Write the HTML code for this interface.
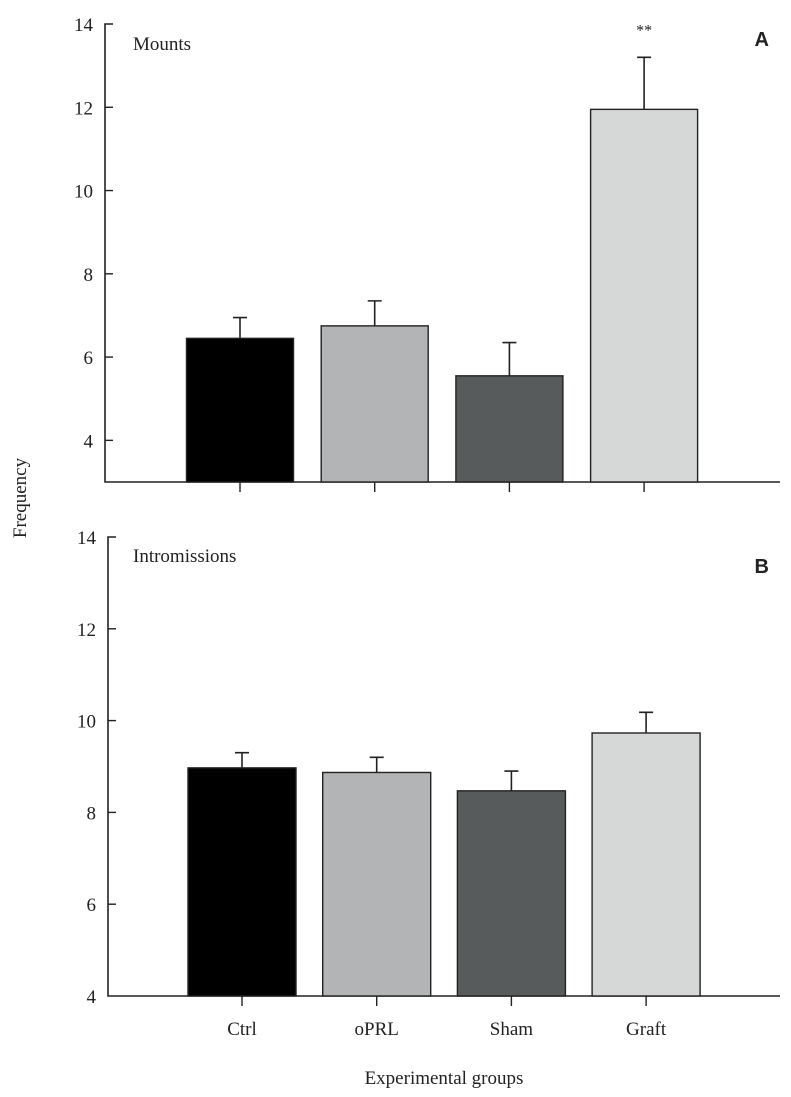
<!DOCTYPE html>
<html><head><meta charset="utf-8"><style>
body{margin:0;background:#fff;}
svg text{font-family:"Liberation Serif",serif;fill:#222;}
</style></head><body>
<svg id="chart" width="791" height="1092" xmlns="http://www.w3.org/2000/svg"></svg>
<script>
const categories=["Ctrl","oPRL","Sham","Graft"];
const mountsValues=[6.45,6.75,5.55,11.95];
const mountsErrors=[0.5,0.6,0.8,1.25];
const introValues=[8.97,8.87,8.47,9.73];
const introErrors=[0.33,0.33,0.43,0.45];
const yTicks=[4,6,8,10,12,14];
const colors=["#000000","#b2b4b5","#585b5c","#d6d7d7"];
const NS="http://www.w3.org/2000/svg";
const svg=document.getElementById('chart');
function mk(tag,attrs,parent){const e=document.createElementNS(NS,tag);for(const k in attrs)e.setAttribute(k,attrs[k]);(parent||svg).appendChild(e);return e;}
function panel(cfg){
  const g=mk('g',{});
  
  
  const y=v=>cfg.y0-(v-cfg.vmin)*(cfg.y0-cfg.y14)/(14-cfg.vmin);
  const xc=i=>cfg.xStart+i*cfg.step;
  const ax=mk('path',{d:`M${cfg.ax+8},${y(14)}H${cfg.ax}V${cfg.y0}H780`,stroke:'#222','stroke-width':1.6,fill:'none'},g);
  
  
  yTicks.forEach(t=>{
    if(t<cfg.vmin)return;
    if(t!==14&&t>cfg.vmin) mk('line',{x1:cfg.ax,x2:cfg.ax+8,y1:y(t),y2:y(t),stroke:'#222','stroke-width':1.4},g);
    const tx=mk('text',{x:cfg.ax-12,y:y(t)+7,'text-anchor':'end','font-size':19},g);
    tx.textContent=t;
    
    
  });
  cfg.values.forEach((v,i)=>{
    const cx=xc(i);
    const top=y(v+cfg.errors[i]);
    const e=mk('path',{d:`M${cx},${y(v)}V${top}M${cx-7},${top}H${cx+7}`,stroke:'#222','stroke-width':1.6,fill:'none'},g);
    
    
    const b=mk('rect',{x:cx-cfg.bw/2,y:y(v),width:cfg.bw,height:cfg.y0-y(v),fill:colors[i],stroke:'#222','stroke-width':1.4},g);
    
    
    mk('line',{x1:cx,x2:cx,y1:cfg.y0,y2:cfg.y0+10,stroke:'#222','stroke-width':1.4},g);
  });
  return {y,xc};
}
const A=panel({name:'panel-a-mounts',ax:105,y0:482,y14:24,vmin:3,xStart:240,step:134.7,bw:107,values:mountsValues,errors:mountsErrors});
const B=panel({name:'panel-b-intromissions',ax:108,y0:996,y14:537,vmin:4,xStart:242,step:134.7,bw:108,values:introValues,errors:introErrors});
function txt(s,attrs,name){const t=mk('text',attrs);t.textContent=s;return t;}
txt('Mounts',{x:133,y:50,'font-size':19},'panel-a-title');
txt('A',{x:769,y:46,'font-size':20,'font-weight':'bold','text-anchor':'end','style':'font-family:Liberation Sans'},'panel-a-label');
txt('**',{x:A.xc(3),y:A.y(mountsValues[3]+mountsErrors[3])-22,'font-size':16,'text-anchor':'middle'},'significance-marker');
txt('Intromissions',{x:133,y:562,'font-size':19},'panel-b-title');
txt('B',{x:769,y:573,'font-size':20,'font-weight':'bold','text-anchor':'end','style':'font-family:Liberation Sans'},'panel-b-label');
categories.forEach((c,i)=>txt(c,{x:B.xc(i),y:1035,'font-size':19,'text-anchor':'middle'},'x-tick-label'));
txt('Experimental groups',{x:444,y:1084,'font-size':19,'text-anchor':'middle'},'x-axis-title');
txt('Frequency',{x:0,y:0,'font-size':19,'text-anchor':'middle',transform:'translate(26,498) rotate(-90)'},'y-axis-title');
</script>
</body></html>
